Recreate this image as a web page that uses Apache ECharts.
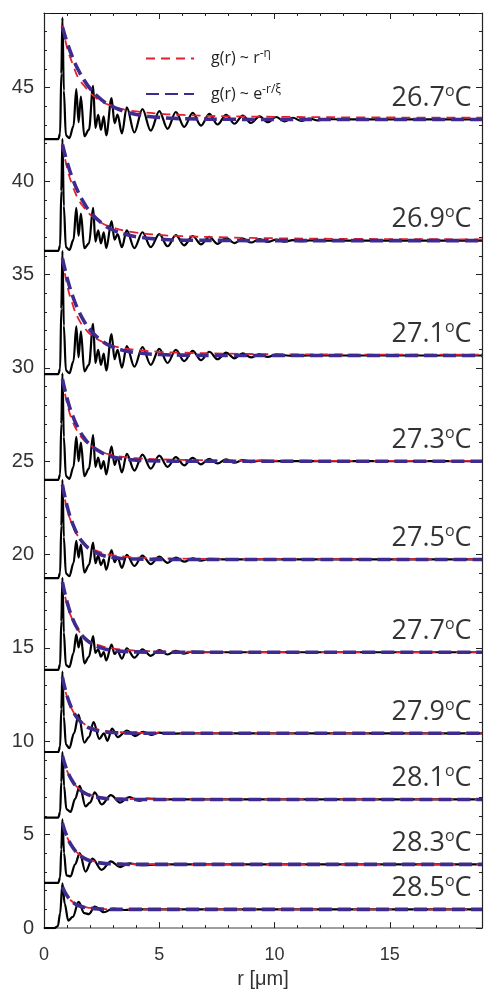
<!DOCTYPE html>
<html>
<head>
<meta charset="utf-8">
<script src="https://cdn.jsdelivr.net/npm/echarts@6/dist/echarts.min.js"></script>
<style>html,body{margin:0;padding:0;background:#fff}#main{width:485px;height:994px}</style>
</head>
<body>
<div id="main"></div>
<script>
var dom = document.getElementById('main');
var myChart = echarts.init(dom, null, { renderer: 'canvas' });

var POW = 'pow';
var EXP = 'exp';

var temps = ['26.7', '26.9', '27.1', '27.3', '27.5', '27.7', '27.9', '28.1', '28.3', '28.5'];
// vertical offset of each g(r) trace
var offsets = [42.25, 36.26, 29.66, 24.0, 18.74, 13.83, 9.43, 5.92, 2.42, 0];

// measured g(r), [r, g] above the offset
var g267 = [[0,0],[0.62,0],[0.7,0.3],[0.75,3.5],[0.8,6.5],[0.86,2.6],[0.95,0.2],[1.1,0.05],[1.28,0.7],[1.4,2.67],[1.5,0.9],[1.6,2.28],[1.75,0.15],[1.95,0.5],[2.13,2.85],[2.23,0.6],[2.35,1.3],[2.47,0.5],[2.59,1.22],[2.7,0.2],[2.93,2.19],[3.06,0.85],[3.19,1.31],[3.38,0.3],[3.59,1.7],[3.92,0.35],[4.27,1.6],[4.63,0.45],[5.0,1.5],[5.36,0.55],[5.72,1.45],[6.08,0.65],[6.45,1.4],[6.81,0.72],[7.17,1.35],[7.53,0.78],[7.9,1.3],[8.26,0.82],[8.62,1.26],[8.98,0.86],[9.35,1.22],[9.71,0.9],[10.07,1.18],[10.43,0.94],[10.8,1.14],[11.16,0.97],[11.52,1.1],[11.88,1.0],[12.25,1.07],[13,1.05],[19,1.05]];
var g269 = [[0,0],[0.62,0],[0.7,0.3],[0.75,3.2],[0.8,6.0],[0.86,2.4],[0.95,0.2],[1.1,0.05],[1.28,0.6],[1.4,2.3],[1.5,0.8],[1.6,2.0],[1.75,0.15],[1.95,0.4],[2.13,2.3],[2.23,0.5],[2.35,1.1],[2.47,0.4],[2.59,1.0],[2.7,0.15],[2.93,1.6],[3.06,0.6],[3.19,0.9],[3.38,0.2],[3.59,1.1],[3.92,0.15],[4.27,1.0],[4.63,0.2],[5.0,0.9],[5.36,0.25],[5.72,0.85],[6.08,0.3],[6.45,0.8],[6.81,0.35],[7.17,0.75],[7.53,0.38],[7.9,0.7],[8.26,0.42],[8.62,0.66],[8.98,0.45],[9.35,0.63],[9.71,0.48],[10.07,0.6],[10.43,0.5],[10.8,0.58],[11.16,0.52],[11.52,0.56],[12.25,0.55],[19,0.55]];
var g271 = [[0,0],[0.62,0],[0.7,0.3],[0.75,3.5],[0.8,6.6],[0.86,2.6],[0.95,0.2],[1.1,0.05],[1.28,0.7],[1.4,2.56],[1.5,0.9],[1.6,2.3],[1.75,0.15],[1.95,0.5],[2.13,2.7],[2.23,0.6],[2.35,1.3],[2.47,0.5],[2.59,1.1],[2.7,0.2],[2.93,2.15],[3.06,0.8],[3.19,1.3],[3.38,0.35],[3.59,1.5],[3.92,0.4],[4.27,1.45],[4.63,0.5],[5.0,1.35],[5.36,0.6],[5.72,1.3],[6.08,0.7],[6.45,1.25],[6.81,0.75],[7.17,1.2],[7.53,0.8],[7.9,1.15],[8.26,0.85],[8.62,1.12],[8.98,0.9],[9.35,1.08],[9.71,0.93],[10.07,1.05],[10.8,0.98],[11.5,1.0],[19,1.0]];
var g273 = [[0,0],[0.62,0],[0.7,0.3],[0.75,3.0],[0.8,5.7],[0.86,2.3],[0.95,0.2],[1.1,0.05],[1.28,0.7],[1.4,2.3],[1.5,1.0],[1.6,2.0],[1.75,0.2],[1.95,0.6],[2.13,2.4],[2.23,0.7],[2.35,1.2],[2.47,0.6],[2.59,1.0],[2.7,0.3],[2.93,1.8],[3.06,0.8],[3.19,1.2],[3.38,0.4],[3.59,1.4],[3.92,0.5],[4.27,1.35],[4.63,0.6],[5.0,1.3],[5.36,0.7],[5.72,1.22],[6.08,0.78],[6.45,1.18],[6.81,0.83],[7.17,1.13],[7.53,0.88],[7.9,1.1],[8.26,0.92],[8.62,1.06],[8.98,0.95],[9.35,1.03],[10.0,1.0],[19,1.0]];
var g275 = [[0,0],[0.62,0],[0.7,0.3],[0.75,2.8],[0.8,5.26],[0.86,2.2],[0.95,0.25],[1.1,0.1],[1.28,0.8],[1.4,2.0],[1.5,1.1],[1.6,1.8],[1.75,0.3],[1.95,0.7],[2.13,1.9],[2.23,0.8],[2.35,1.2],[2.47,0.7],[2.59,1.0],[2.7,0.45],[2.93,1.5],[3.06,0.85],[3.19,1.1],[3.38,0.55],[3.59,1.25],[3.92,0.65],[4.27,1.2],[4.63,0.75],[5.0,1.15],[5.36,0.82],[5.72,1.1],[6.08,0.88],[6.45,1.06],[6.81,0.93],[7.17,1.03],[7.9,1.0],[19,1.0]];
var g277 = [[0,0],[0.62,0],[0.7,0.3],[0.75,2.6],[0.8,4.93],[0.86,2.0],[0.95,0.25],[1.1,0.15],[1.28,0.9],[1.4,1.9],[1.5,1.2],[1.6,1.75],[1.75,0.35],[1.95,0.7],[2.13,1.8],[2.23,0.9],[2.35,1.1],[2.47,0.7],[2.59,0.95],[2.7,0.5],[2.93,1.35],[3.06,0.85],[3.19,1.0],[3.38,0.6],[3.59,1.15],[3.92,0.65],[4.27,1.1],[4.63,0.75],[5.0,1.05],[5.36,0.82],[5.72,1.02],[6.08,0.87],[6.45,0.98],[7.17,0.94],[19,0.94]];
var g279 = [[0,0],[0.62,0],[0.7,0.3],[0.75,2.3],[0.8,4.3],[0.86,1.9],[0.95,0.4],[1.1,0.2],[1.3,1.0],[1.5,2.0],[1.75,0.5],[1.95,0.8],[2.15,1.6],[2.4,0.7],[2.6,1.0],[2.75,0.6],[2.95,1.25],[3.2,0.8],[3.6,1.15],[3.95,0.85],[4.3,1.08],[4.65,0.92],[5.0,1.04],[5.4,0.97],[6,1.0],[19,1.0]];
var g281 = [[0,0],[0.62,0],[0.7,0.3],[0.75,1.9],[0.8,3.5],[0.87,1.7],[0.97,0.45],[1.15,0.3],[1.35,1.0],[1.55,1.7],[1.8,0.6],[2.0,0.8],[2.2,1.35],[2.5,0.7],[2.9,1.2],[3.3,0.8],[3.7,1.1],[4.1,0.9],[4.5,1.02],[5,0.97],[19,0.97]];
var g283 = [[0,0],[0.62,0],[0.7,0.3],[0.75,1.8],[0.8,3.4],[0.87,1.6],[0.97,0.4],[1.15,0.35],[1.35,1.0],[1.55,1.6],[1.8,0.6],[2.1,1.3],[2.5,0.7],[2.9,1.15],[3.3,0.85],[3.7,1.05],[4.2,0.95],[5,0.99],[19,0.99]];
var g285 = [[0,0],[0.45,0],[0.6,0.1],[0.7,0.8],[0.8,2.4],[0.9,1.3],[1.05,0.4],[1.25,0.6],[1.5,1.4],[1.75,0.8],[1.95,0.75],[2.2,1.15],[2.6,0.85],[3.0,1.05],[3.5,0.97],[4,1.0],[19,1.0]];

// fitted envelopes, sampled at rFit
var rFit = [0.8, 1.0, 1.25, 1.5, 1.75, 2.0, 2.5, 3.0, 3.5, 4.0, 5.0, 6.0, 8.0, 10, 14, 19];
var pow267 = [6.08, 4.9, 4.0, 3.25, 2.85, 2.48, 2.0, 1.76, 1.58, 1.48, 1.36, 1.29, 1.22, 1.19, 1.16, 1.14];
var pow269 = [5.7, 4.45, 3.45, 2.75, 2.3, 1.95, 1.5, 1.25, 1.08, 0.98, 0.86, 0.79, 0.72, 0.68, 0.64, 0.62];
var pow271 = [6.2, 4.8, 3.7, 2.95, 2.5, 2.15, 1.75, 1.52, 1.38, 1.3, 1.2, 1.15, 1.1, 1.07, 1.05, 1.04];
var pow273 = [5.4, 4.1, 3.1, 2.5, 2.1, 1.85, 1.5, 1.32, 1.22, 1.16, 1.1, 1.07, 1.04, 1.03, 1.02, 1.02];
var pow275 = [5.0, 3.7, 2.8, 2.2, 1.85, 1.62, 1.36, 1.22, 1.15, 1.1, 1.06, 1.04, 1.02, 1.02, 1.01, 1.01];
var pow277 = [4.7, 3.5, 2.65, 2.1, 1.75, 1.52, 1.27, 1.14, 1.07, 1.03, 0.99, 0.97, 0.96, 0.95, 0.95, 0.95];
var pow279 = [4.0, 2.95, 2.2, 1.75, 1.5, 1.34, 1.16, 1.08, 1.05, 1.03, 1.02, 1.01, 1.01, 1.0, 1.0, 1.0];
var pow281 = [3.3, 2.5, 1.92, 1.56, 1.35, 1.21, 1.08, 1.02, 1.0, 0.99, 0.98, 0.98, 0.97, 0.97, 0.97, 0.97];
var pow283 = [3.2, 2.45, 1.9, 1.56, 1.35, 1.22, 1.09, 1.04, 1.02, 1.01, 1.0, 1.0, 0.99, 0.99, 0.99, 0.99];
var pow285 = [2.2, 1.72, 1.4, 1.23, 1.13, 1.08, 1.03, 1.01, 1.0, 1.0, 1.0, 1.0, 1.0, 1.0, 1.0, 1.0];

var exp267 = [6.0, 5.18, 4.34, 3.67, 3.14, 2.71, 2.1, 1.72, 1.48, 1.32, 1.16, 1.09, 1.06, 1.05, 1.05, 1.05];
var exp269 = [5.7, 4.77, 3.84, 3.11, 2.54, 2.1, 1.49, 1.12, 0.9, 0.76, 0.63, 0.58, 0.56, 0.55, 0.55, 0.55];
var exp271 = [6.2, 5.17, 4.16, 3.39, 2.81, 2.37, 1.79, 1.45, 1.26, 1.15, 1.05, 1.02, 1.0, 1.0, 1.0, 1.0];
var exp273 = [5.4, 4.37, 3.42, 2.73, 2.24, 1.89, 1.46, 1.23, 1.12, 1.06, 1.02, 1.0, 1.0, 1.0, 1.0, 1.0];
var exp275 = [5.0, 3.87, 2.89, 2.24, 1.82, 1.54, 1.24, 1.1, 1.04, 1.02, 1.0, 1.0, 1.0, 1.0, 1.0, 1.0];
var exp277 = [4.7, 3.64, 2.71, 2.11, 1.71, 1.45, 1.16, 1.04, 0.98, 0.96, 0.94, 0.94, 0.94, 0.94, 0.94, 0.94];
var exp279 = [4.0, 3.01, 2.22, 1.74, 1.45, 1.27, 1.1, 1.04, 1.02, 1.01, 1.0, 1.0, 1.0, 1.0, 1.0, 1.0];
var exp281 = [3.3, 2.53, 1.92, 1.55, 1.32, 1.18, 1.05, 1.0, 0.98, 0.97, 0.97, 0.97, 0.97, 0.97, 0.97, 0.97];
var exp283 = [3.2, 2.47, 1.89, 1.54, 1.32, 1.19, 1.06, 1.02, 1.0, 0.99, 0.99, 0.99, 0.99, 0.99, 0.99, 0.99];
var exp285 = [2.2, 1.73, 1.39, 1.21, 1.11, 1.06, 1.02, 1.0, 1.0, 1.0, 1.0, 1.0, 1.0, 1.0, 1.0, 1.0];

var blackCurves = [g267, g269, g271, g273, g275, g277, g279, g281, g283, g285];
var powFits = [pow267, pow269, pow271, pow273, pow275, pow277, pow279, pow281, pow283, pow285];
var expFits = [exp267, exp269, exp271, exp273, exp275, exp277, exp279, exp281, exp283, exp285];

var RED = '#e3202c';
var BLUE = '#3f2a8f';

var series = [];
temps.forEach(function (t, i) {
  var base = offsets[i];
  series.push({
    type: 'line', name: 'data' + t, silent: true,
    data: blackCurves[i].map(function (p) { return [p[0], base + p[1]]; }),
    symbol: 'none', smooth: 0.35, smoothMonotone: 'x',
    lineStyle: { color: '#000', width: 2.2 }, z: 2
  });
  series.push({
    type: 'line', name: POW, silent: true,
    data: rFit.map(function (r, k) { return [r, base + powFits[i][k]]; }),
    symbol: 'none', smooth: 0.5,
    itemStyle: { color: RED },
    lineStyle: { color: RED, width: 1.8, type: [9, 6] }, z: 3
  });
  series.push({
    type: 'line', name: EXP, silent: true,
    data: rFit.map(function (r, k) { return [r, base + expFits[i][k]]; }),
    symbol: 'none', smooth: 0.5,
    itemStyle: { color: BLUE },
    lineStyle: { color: BLUE, width: 3.6, type: [13, 6] }, z: 4
  });
});

// temperature labels, sitting just above each asymptote
series.push({
  type: 'scatter', silent: true, symbolSize: 0, z: 5,
  data: temps.map(function (t, i) {
    return { name: t, value: [18.55, offsets[i] + expFits[i][rFit.length - 1]] };
  }),
  label: {
    show: true, position: [0, 0], align: 'right', verticalAlign: 'bottom', offset: [0, -6],
    formatter: function (p) { return '{n|' + p.name + '}{s|o}{n|C}'; },
    rich: {
      n: { fontFamily: 'Open Sans', fontSize: 27, color: '#000', lineHeight: 30 },
      s: { fontFamily: 'Open Sans', fontSize: 16, color: '#000', verticalAlign: 'top', lineHeight: 30, padding: [0, 0, 10, 0] }
    }
  }
});

function frameAxis(min, max, position, step, tickLen, line, label) {
  return {
    type: 'value', min: min, max: max, interval: step, position: position,
    axisLine: line ? { show: true, onZero: false, lineStyle: line } : { show: false, onZero: false },
    axisTick: { show: true, inside: true, length: tickLen, lineStyle: { color: '#222', width: 1 } },
    axisLabel: label || { show: false },
    splitLine: { show: false }
  };
}

var tickLabel = function (v) { return v % 5 === 0 ? String(v) : ''; };

var xMain = frameAxis(0, 19, 'bottom', 5, 6, { color: '#808080', width: 1.5 }, {
  fontFamily: 'Liberation Sans', fontSize: 18, color: '#333', margin: 18, formatter: tickLabel
});
xMain.name = 'r [μm]';
xMain.nameLocation = 'middle';
xMain.nameGap = 38;
xMain.nameTextStyle = { fontFamily: 'Liberation Sans', fontSize: 20, color: '#333' };

var yMain = frameAxis(0, 49, 'left', 5, 6, { color: '#222', width: 1.2 }, {
  fontFamily: 'Liberation Sans', fontSize: 20, color: '#333', margin: 10, formatter: tickLabel
});

option = {
  animation: false,
  backgroundColor: '#fff',
  grid: { left: 44, right: 0, top: 13, bottom: 57 },
  legend: {
    data: [POW, EXP],
    orient: 'vertical',
    left: 140, top: 43,
    itemWidth: 48, itemHeight: 14, itemGap: 17,
    itemStyle: { opacity: 0 },
    formatter: function (n) {
      return n === POW ? 'g(r) ~ r{s|-η}' : 'g(r) ~ e{s|-r/ξ}';
    },
    textStyle: {
      fontFamily: 'Open Sans', fontSize: 16, color: '#231f20', padding: [0, 0, 0, 12],
      rich: { s: { fontFamily: 'Open Sans', fontSize: 12, color: '#231f20', verticalAlign: 'top', padding: [0, 0, 9, 0] } }
    }
  },
  xAxis: [
    xMain,
    frameAxis(0, 19, 'bottom', 1, 3, null),
    frameAxis(0, 19, 'top', 5, 6, { color: '#111', width: 1.2 }),
    frameAxis(0, 19, 'top', 1, 3, null)
  ],
  yAxis: [
    yMain,
    frameAxis(0, 49, 'left', 1, 3, null),
    frameAxis(0, 49, 'right', 5, 6, { color: '#222', width: 1.2 }),
    frameAxis(0, 49, 'right', 1, 3, null)
  ],
  series: series
};

myChart.setOption(option);
window.addEventListener('resize', myChart.resize);
</script>
</body>
</html>
